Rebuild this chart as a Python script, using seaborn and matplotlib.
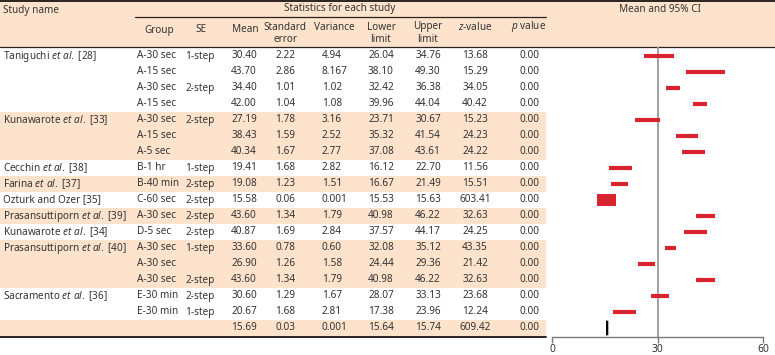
import matplotlib
matplotlib.use("Agg")
import matplotlib.pyplot as plt
import numpy as np
import pandas as pd
import seaborn as sns

sns.set_theme(style="white")
plt.rcParams["font.family"] = ["Noto Sans", "DejaVu Sans"]
plt.rcParams["mathtext.fontset"] = "custom"
plt.rcParams["mathtext.rm"] = "Noto Sans"
plt.rcParams["mathtext.it"] = "Noto Sans:italic"

# table values as printed
study = ["Taniguchi et al. [28]", "", "", "",
         "Kunawarote et al. [33]", "", "",
         "Cecchin et al. [38]", "Farina et al. [37]", "Ozturk and Ozer [35]",
         "Prasansuttiporn et al. [39]", "Kunawarote et al. [34]",
         "Prasansuttiporn et al. [40]", "", "",
         "Sacramento et al. [36]", "", ""]
group = ["A-30 sec", "A-15 sec", "A-30 sec", "A-15 sec",
         "A-30 sec", "A-15 sec", "A-5 sec",
         "B-1 hr", "B-40 min", "C-60 sec", "A-30 sec", "D-5 sec",
         "A-30 sec", "A-30 sec", "A-30 sec",
         "E-30 min", "E-30 min", ""]
se_step = ["1-step", "", "2-step", "",
           "2-step", "", "",
           "1-step", "2-step", "2-step", "2-step", "2-step",
           "1-step", "", "2-step",
           "2-step", "1-step", ""]
mean = ["30.40", "43.70", "34.40", "42.00", "27.19", "38.43", "40.34",
        "19.41", "19.08", "15.58", "43.60", "40.87",
        "33.60", "26.90", "43.60", "30.60", "20.67", "15.69"]
std_err = ["2.22", "2.86", "1.01", "1.04", "1.78", "1.59", "1.67",
           "1.68", "1.23", "0.06", "1.34", "1.69",
           "0.78", "1.26", "1.34", "1.29", "1.68", "0.03"]
variance = ["4.94", "8.167", "1.02", "1.08", "3.16", "2.52", "2.77",
            "2.82", "1.51", "0.001", "1.79", "2.84",
            "0.60", "1.58", "1.79", "1.67", "2.81", "0.001"]
lower = ["26.04", "38.10", "32.42", "39.96", "23.71", "35.32", "37.08",
         "16.12", "16.67", "15.53", "40.98", "37.57",
         "32.08", "24.44", "40.98", "28.07", "17.38", "15.64"]
upper = ["34.76", "49.30", "36.38", "44.04", "30.67", "41.54", "43.61",
         "22.70", "21.49", "15.63", "46.22", "44.17",
         "35.12", "29.36", "46.22", "33.13", "23.96", "15.74"]
z_value = ["13.68", "15.29", "34.05", "40.42", "15.23", "24.23", "24.22",
           "11.56", "15.51", "603.41", "32.63", "24.25",
           "43.35", "21.42", "32.63", "23.68", "12.24", "609.42"]
p_value = ["0.00"] * 18

n = len(mean)
df = pd.DataFrame(dict(row=np.arange(n), mean=np.array(mean, float),
                       lower=np.array(lower, float), upper=np.array(upper, float),
                       var=np.array(variance, float)))
df["weight"] = 1 / df["var"]
studies = df.iloc[:-1]
summary = df.iloc[-1]

txt_col = "#333333"
rule_col = "#2b2220"
peach = "#fde3cb"
red = "#d9232f"
fs = 7.2

fig = plt.figure(figsize=(7.75, 3.55), dpi=100)

# table in pixel coords
tab = fig.add_axes([0, 0, 1, 1], zorder=0)
tab.set_xlim(0, 775)
tab.set_ylim(355, 0)
tab.axis("off")

row_y = lambda r: 56 + 16 * r
table_right = 546

tab.add_patch(plt.Rectangle((0, 0), 775, 47, color=peach, lw=0))
gid = np.cumsum([s != "" for s in study]) - 1
gid[-1] = gid[-2] + 1
for r in range(n):
    if gid[r] % 2 == 1:
        tab.add_patch(plt.Rectangle((0, row_y(r) - 8), table_right, 16, color=peach, lw=0))

tab.plot([0, 775], [0.8, 0.8], color=rule_col, lw=1.4)
tab.plot([0, 775], [47, 47], color=rule_col, lw=0.9)
tab.plot([135, table_right], [17, 17], color=rule_col, lw=0.9)
tab.plot([0, table_right], [337, 337], color=rule_col, lw=1.4)

hdr = dict(fontsize=fs, color=txt_col, va="center")
tab.text(3, 10, "Study name", ha="left", **hdr)
tab.text(340, 9, "Statistics for each study", ha="center", **hdr)
tab.text(660, 10, "Mean and 95% CI", ha="center", **hdr)
tab.text(159, 30, "Group", ha="center", **hdr)
tab.text(201, 30, "SE", ha="center", **hdr)
tab.text(245, 30, "Mean", ha="center", **hdr)
tab.text(285, 27, "Standard", ha="center", **hdr)
tab.text(285, 40, "error", ha="center", **hdr)
tab.text(334, 27, "Variance", ha="center", **hdr)
tab.text(381, 27, "Lower", ha="center", **hdr)
tab.text(381, 40, "limit", ha="center", **hdr)
tab.text(428, 27, "Upper", ha="center", **hdr)
tab.text(428, 40, "limit", ha="center", **hdr)
tab.text(475, 27, r"$\mathit{z}$-value", ha="center", **hdr)
tab.text(529, 27, r"$\mathit{p}$ value", ha="center", **hdr)

columns = [(study, 3, "left"), (group, 137, "left"), (se_step, 185, "left"),
           (mean, 244, "center"), (std_err, 285, "center"), (variance, 322, "left"),
           (lower, 381, "center"), (upper, 428, "center"), (z_value, 475, "center"),
           (p_value, 530, "center")]
for values, x, ha in columns:
    for r, v in enumerate(values):
        v = v.replace("et al.", r"$\mathit{et\ al.}$")
        tab.text(x, row_y(r), v, ha=ha, va="center", fontsize=fs, color=txt_col)

# forest panel
ax = fig.add_axes([552 / 775, 18 / 355, 211 / 775, 290 / 355], zorder=1)
ax.patch.set_alpha(0)
ax.axvline(30, color="#9b9b9b", lw=1.3, zorder=0)
ax.hlines(studies["row"], studies["lower"], studies["upper"], color=red, lw=3, zorder=2)
box = [(-1, -0.684), (1, -0.684), (1, 0.684), (-1, 0.684), (-1, -0.684)]
sns.scatterplot(data=studies, x="mean", y="row", size="weight", sizes=(0, 187),
                size_norm=(0, studies["weight"].max()), marker=box, color=red,
                edgecolor="none", linewidth=0, legend=False, ax=ax, zorder=3)
r = summary["row"]
ax.fill([summary["lower"], summary["mean"], summary["upper"], summary["mean"]],
        [r, r - 0.45, r, r + 0.45], facecolor="black", edgecolor="black", lw=1.4, zorder=3)

ax.set_xlim(0, 60)
ax.set_ylim(n - 0.4375, -0.5625)
ax.set_xticks([0, 30, 60])
ax.set_yticks([])
ax.set_xlabel("")
ax.set_ylabel("")
sns.despine(ax=ax, left=True)
ax.spines["bottom"].set_color("#7a7a7a")
ax.spines["bottom"].set_linewidth(1.0)
ax.tick_params(axis="x", bottom=True, length=4, width=1, color="#7a7a7a",
               labelsize=7.4, labelcolor=txt_col, pad=1)

fig.savefig("out.png", dpi=100)
